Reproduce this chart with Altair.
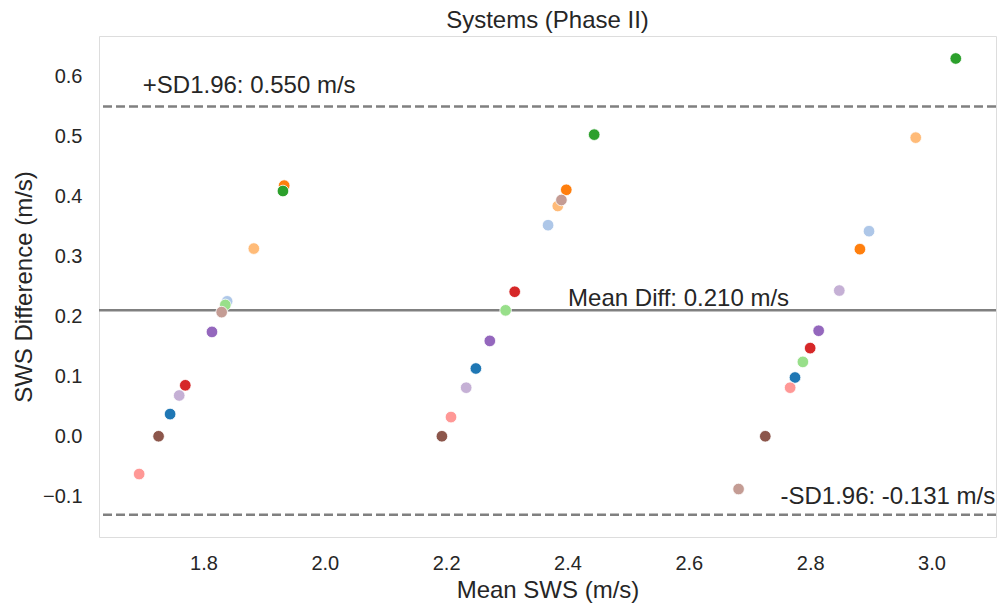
import altair as alt
import pandas as pd

# Subject identifiers (one colour each, tab20 order) and their three measurements
subjects = ["S1", "S2", "S3", "S4", "S5", "S6", "S7", "S8", "S9", "S10", "S11", "S12"]
colors = ["#1f77b4", "#aec7e8", "#ff7f0e", "#ffbb78", "#2ca02c", "#98df8a",
          "#d62728", "#ff9896", "#9467bd", "#c5b0d5", "#8c564b", "#c49c94"]

mean_sws = [
    [1.745, 2.249, 2.775],
    [1.839, 2.368, 2.897],
    [1.933, 2.398, 2.882],
    [1.883, 2.384, 2.974],
    [1.931, 2.444, 3.040],
    [1.836, 2.298, 2.788],
    [1.770, 2.313, 2.800],
    [1.694, 2.208, 2.767],
    [1.814, 2.272, 2.814],
    [1.760, 2.233, 2.848],
    [1.726, 2.193, 2.726],
    [1.830, 2.390, 2.682],
]
diff_sws = [
    [0.037, 0.113, 0.098],
    [0.225, 0.352, 0.342],
    [0.418, 0.411, 0.312],
    [0.313, 0.384, 0.498],
    [0.409, 0.503, 0.630],
    [0.219, 0.210, 0.124],
    [0.085, 0.241, 0.147],
    [-0.063, 0.032, 0.081],
    [0.174, 0.159, 0.176],
    [0.068, 0.081, 0.243],
    [0.000, 0.000, 0.000],
    [0.207, 0.394, -0.088],
]

mean_diff = 0.210
upper_loa = 0.550
lower_loa = -0.131

line_values = [upper_loa, mean_diff, lower_loa]
line_kinds = ["dashed", "solid", "dashed"]

label_texts = ["+SD1.96: 0.550 m/s", "Mean Diff: 0.210 m/s", "-SD1.96: -0.131 m/s"]
label_x = [1.700, 2.401, 3.105]
label_y = [0.572, 0.218, -0.113]
label_align = ["left", "left", "right"]

x_ticks = [1.8, 2.0, 2.2, 2.4, 2.6, 2.8, 3.0]
y_ticks = [-0.1, 0.0, 0.1, 0.2, 0.3, 0.4, 0.5, 0.6]

rows = []
for s, xs, ys in zip(subjects, mean_sws, diff_sws):
    for xv, yv in zip(xs, ys):
        rows.append({"subject": s, "mean": xv, "diff": yv})
pts = pd.DataFrame(rows)

lines = pd.DataFrame({"y": line_values, "kind": line_kinds})
labels = pd.DataFrame({"x": label_x, "y": label_y, "text": label_texts, "side": label_align})

FONT = "Liberation Sans"
TXT = "#262626"

xscale = alt.Scale(domain=[1.6278, 3.1063], nice=False, zero=False)
yscale = alt.Scale(domain=[-0.168, 0.6675], nice=False, zero=False)

points = alt.Chart(pts).mark_point(filled=True, opacity=1, stroke="white", strokeWidth=0.8, size=135).encode(
    x=alt.X("mean:Q", scale=xscale,
            axis=alt.Axis(title="Mean SWS (m/s)", values=x_ticks, format=".1f", grid=False,
                          ticks=False, tickSize=0, domain=False, labelPadding=16,
                          labelFontSize=20, titleFontSize=24, titlePadding=5,
                          labelColor=TXT, titleColor=TXT, labelFont=FONT, titleFont=FONT,
                          titleFontWeight="normal")),
    y=alt.Y("diff:Q", scale=yscale,
            axis=alt.Axis(title="SWS Difference (m/s)", values=y_ticks, format=".1f", grid=False,
                          ticks=False, tickSize=0, domain=False, labelPadding=17,
                          labelFontSize=20, titleFontSize=24, titlePadding=6,
                          labelColor=TXT, titleColor=TXT, labelFont=FONT, titleFont=FONT,
                          titleFontWeight="normal")),
    color=alt.Color("subject:N", scale=alt.Scale(domain=subjects, range=colors), legend=None),
)

dashed = alt.Chart(lines[lines["kind"] == "dashed"]).mark_rule(
    color="#808080", strokeWidth=2.5, strokeDash=[9, 4]).encode(y=alt.Y("y:Q", scale=yscale))
solid = alt.Chart(lines[lines["kind"] == "solid"]).mark_rule(
    color="#808080", strokeWidth=2.5).encode(y=alt.Y("y:Q", scale=yscale))

left_labels = alt.Chart(labels[labels["side"] == "left"]).mark_text(
    align="left", baseline="alphabetic", fontSize=24, font=FONT, color=TXT).encode(
    x=alt.X("x:Q", scale=xscale), y=alt.Y("y:Q", scale=yscale), text="text:N")
right_labels = alt.Chart(labels[labels["side"] == "right"]).mark_text(
    align="right", baseline="alphabetic", fontSize=24, font=FONT, color=TXT).encode(
    x=alt.X("x:Q", scale=xscale), y=alt.Y("y:Q", scale=yscale), text="text:N")

chart = alt.layer(dashed, solid, points, left_labels, right_labels).properties(
    width=897, height=501,
    title=alt.TitleParams("Systems (Phase II)", fontSize=24, font=FONT, color=TXT,
                          fontWeight="normal", anchor="middle", offset=3),
    autosize=alt.AutoSizeParams(type="none"),
    padding={"left": 99, "top": 36, "right": 2, "bottom": 67},
).configure_view(stroke="#c8c8c8", strokeWidth=2.5).configure(background="white")

chart.save("out.html", embed_options={"renderer": "svg", "actions": False})
